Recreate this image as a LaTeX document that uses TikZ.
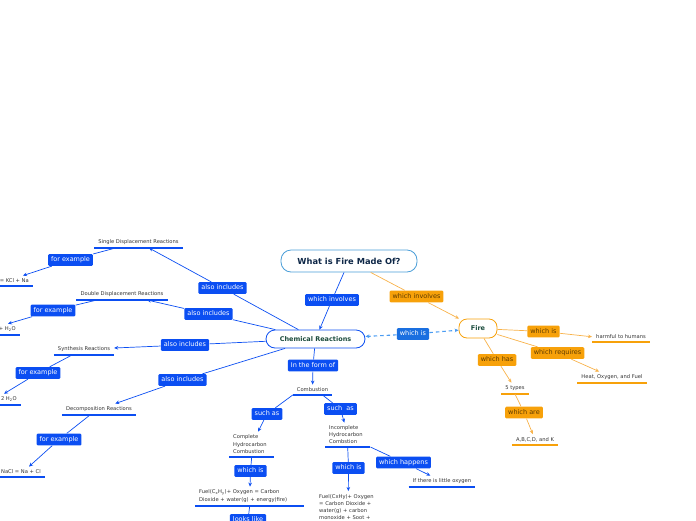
\documentclass[tikz,border=0pt]{standalone}
\usepackage{fontspec}
\setmainfont{DejaVu Sans}
\usepackage{xcolor}
\usetikzlibrary{arrows.meta,positioning}

\definecolor{mmblue}{HTML}{0B4EF2}
\definecolor{mmsky}{HTML}{1A6FE0}
\definecolor{mmdash}{HTML}{4B9CF2}
\definecolor{mmorange}{HTML}{F7A10A}
\definecolor{mmoline}{HTML}{F8B24A}
\definecolor{mmbrown}{HTML}{5E3B00}
\definecolor{mmnavy}{HTML}{0E2747}
\definecolor{mmgreen}{HTML}{1B4B3C}
\definecolor{mmgray}{HTML}{333333}
\definecolor{mmframe}{HTML}{4A9ED8}

\begin{document}
\begin{tikzpicture}[
		x=1pt, y=-1pt,
		topic/.style={draw, line width=0.8pt, fill=white, text=mmgreen, font=\bfseries\fontsize{6.5}{8}\selectfont},
		tag/.style={fill=mmblue, text=white, rounded corners=1.2pt, font=\fontsize{6.5}{8}\selectfont, text height=5pt, text depth=1.3pt, inner xsep=3pt, inner ysep=2.8pt},
		otag/.style={tag, fill=mmorange, text=mmbrown},
		leaf/.style={text=mmgray, font=\fontsize{5.2}{7.5}\selectfont, inner xsep=4pt, inner ysep=3pt, align=left},
		link/.style={draw=mmblue, line width=0.7pt},
		olink/.style={draw=mmoline, line width=0.7pt},
		uline/.style={draw=mmblue, line width=1.1pt},
		ouline/.style={draw=mmorange, line width=1.1pt},
		dlink/.style={draw=mmdash, line width=1.1pt, dash pattern=on 3.5pt off 3pt},
		arr/.style={-{Stealth[length=4pt,width=3.6pt]}}
	]
	\useasboundingbox (0,0) rectangle (696,520);
	\clip (0,0) rectangle (696,520);

	% main topics
	\node[topic, draw=mmframe, text=mmnavy, font=\bfseries\fontsize{8.3}{10}\selectfont, rounded corners=10pt, minimum width=136pt, minimum height=22pt] (title) at (349,261) {What is Fire Made Of?};
	\node[topic, draw=mmblue, rounded corners=9pt, minimum width=99pt, minimum height=18pt] (chem) at (315.5,339) {Chemical Reactions};
	\node[topic, draw=mmorange, rounded corners=8pt, minimum width=38pt, minimum height=19pt] (fire) at (478,328.5) {Fire};

	% leaves
	\node[leaf, anchor=south] (sdr) at (138.5,248) {Single Displacement Reactions};
	\node[leaf, anchor=south] (ddr) at (122,300) {Double Displacement Reactions};
	\node[leaf, anchor=south] (syn) at (84,355) {Synthesis Reactions};
	\node[leaf, anchor=south] (dec) at (99,415) {Decomposition Reactions};
	\node[leaf, anchor=south east] (kcl) at (33,286) {= KCl + Na};
	\node[leaf, anchor=south east] (h2a) at (20,335) {+ H\textsubscript{2}O};
	\node[leaf, anchor=south east] (h2b) at (21,405) {2 H\textsubscript{2}O};
	\node[leaf, anchor=south east] (nacl) at (45,477) {NaCl = Na + Cl};
	\node[leaf, anchor=south] (comb) at (312.5,395) {Combustion};
	\node[leaf, anchor=south west, text width=37pt] (cmpl) at (229,457) {Complete\\Hydrocarbon\\Combustion};
	\node[leaf, anchor=south west, text width=37pt, font=\fontsize{5.2}{7}\selectfont] (incm) at (325,447) {Incomplete\\Hydrocarbon\\Combstion};
	\node[leaf, anchor=south west, text width=101pt, font=\fontsize{5.2}{8}\selectfont] (fuel1) at (195,506) {Fuel(C\textsubscript{x}H\textsubscript{y})+ Oxygen = Carbon\\Dioxide + water(g) + energy(fire)};
	\node[leaf, anchor=north west, text width=58pt, font=\fontsize{5.2}{7}\selectfont] (fuel2) at (315,491) {Fuel(CxHy)+ Oxygen\\= Carbon Dioxide +\\water(g) + carbon\\monoxide + Soot +};
	\node[leaf, anchor=south] (oxy) at (442,487) {If there is little oxygen};
	\node[leaf, anchor=south] (harm) at (621,342) {harmful to humans};
	\node[leaf, anchor=south] (hof) at (612,383) {Heat, Oxygen, and Fuel};
	\node[leaf, anchor=south] (five) at (515,394) {5 types};
	\node[leaf, anchor=south] (abc) at (535,445) {A,B,C,D, and K};

	\foreach \n in {sdr,ddr,syn,dec,kcl,h2a,h2b,nacl,comb,cmpl,incm,fuel1,oxy}
		\draw[uline] (\n.south west) -- (\n.south east);
	\foreach \n in {harm,hof,five,abc}
		\draw[ouline] (\n.south west) -- (\n.south east);

	% link labels
	\node[tag] (inv) at (332,300) {which involves};
	\node[tag, fill=mmsky] (isf) at (413,334) {which is};
	\node[tag] (form) at (313,365.5) {In the form of};
	\node[tag] (suchA) at (267,414) {such as};
	\node[tag] (suchB) at (340.5,409) {such\ \ as};
	\node[tag] (isA) at (250.5,471) {which is};
	\node[tag] (isB) at (348.5,468) {which is};
	\node[tag] (happ) at (403.5,462.5) {which happens};
	\node[tag] (looks) at (248,520) {looks like};
	\node[tag] (alsoA) at (222.5,288) {also includes};
	\node[tag] (alsoB) at (208.5,314) {also includes};
	\node[tag] (alsoC) at (185,345) {also includes};
	\node[tag] (alsoD) at (182.5,380) {also includes};
	\node[tag] (exA) at (70.5,260) {for example};
	\node[tag] (exB) at (53,310.5) {for example};
	\node[tag] (exC) at (38,373) {for example};
	\node[tag] (exD) at (59,439.5) {for example};
	\node[otag] (oinv) at (416.5,296.5) {which involves};
	\node[otag] (ois) at (543.5,331.5) {which is};
	\node[otag] (oreq) at (557.5,353) {which requires};
	\node[otag] (ohas) at (497,360) {which has};
	\node[otag] (oare) at (524,412.5) {which are};

	% connectors
	\draw[link] (title) -- (inv);
	\draw[link, arr] (inv) -- (chem);
	\draw[olink] (title) -- (oinv);
	\draw[olink, arr] (oinv) -- (fire);
	\draw[dlink, arr] (isf) -- (chem);
	\draw[dlink, arr] (isf) -- (fire);

	\draw[link] (chem) -- (form);
	\draw[link, arr] (form) -- (comb);
	\draw[link] (comb.south west) -- (suchA);
	\draw[link, arr] (suchA) -- (cmpl);
	\draw[link] ([xshift=10pt]comb.south) -- (suchB);
	\draw[link, arr] (suchB) -- (incm);
	\draw[link] (cmpl.south) -- (isA);
	\draw[link, arr] (isA) -- (fuel1);
	\draw[link] (fuel1.south) -- (looks);
	\draw[link] (incm.south) -- (isB);
	\draw[link, arr] (isB) -- (fuel2);
	\draw[link] (incm.south east) -- (happ);
	\draw[link, arr] (happ) -- (oxy);

	\draw[link] (chem) -- (alsoA);
	\draw[link, arr] (alsoA) -- (sdr);
	\draw[link] (chem) -- (alsoB);
	\draw[link, arr] (alsoB) -- (ddr);
	\draw[link] (chem) -- (alsoC);
	\draw[link, arr] (alsoC) -- (syn);
	\draw[link] (chem) -- (alsoD);
	\draw[link, arr] (alsoD) -- (dec);
	\draw[link] ([xshift=-23pt]sdr.south) -- (exA);
	\draw[link, arr] (exA) -- ([xshift=-10pt]kcl.north east);
	\draw[link] ([xshift=-25pt]ddr.south) -- (exB);
	\draw[link, arr] (exB) -- ([xshift=-12pt]h2a.north east);
	\draw[link] ([xshift=-12pt]syn.south) -- (exC);
	\draw[link, arr] (exC) -- ([xshift=-17pt]h2b.north east);
	\draw[link] ([xshift=-9pt]dec.south) -- (exD);
	\draw[link, arr] (exD) -- ([xshift=-16pt]nacl.north east);

	\draw[olink] (fire) -- (ois);
	\draw[olink, arr] (ois) -- (harm.west);
	\draw[olink] (fire) -- (oreq);
	\draw[olink, arr] (oreq) -- (hof);
	\draw[olink] (fire) -- (ohas);
	\draw[olink, arr] (ohas) -- (five);
	\draw[olink] (five.south) -- (oare);
	\draw[olink, arr] (oare) -- (abc);
\end{tikzpicture}
\end{document}
